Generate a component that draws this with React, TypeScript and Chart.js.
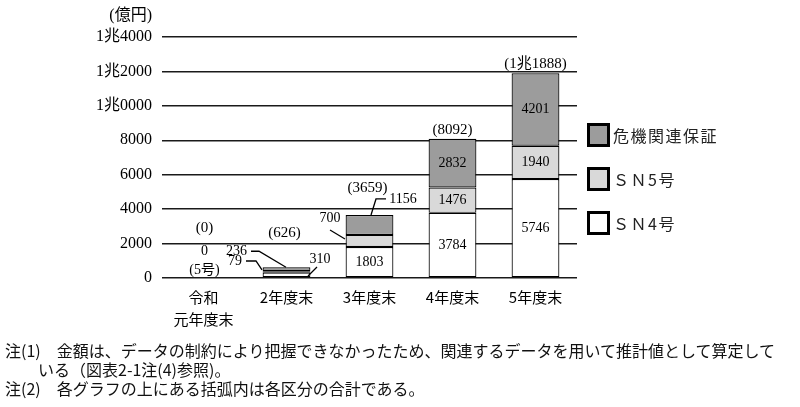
import { useEffect, useRef } from "react";
import { Chart, registerables } from "chart.js";

Chart.register(...registerables);

// 区分ごとの保証額 (億円)
const categories = [["令和", "元年度末"], "2年度末", "3年度末", "4年度末", "5年度末"];
const sn4 = [0, 310, 1803, 3784, 5746];
const sn5 = [0, 79, 700, 1476, 1940];
const crisis = [0, 236, 1156, 2832, 4201];
// 括弧内の合計 (図に書かれている値)
const totals = [0, 626, 3659, 8092, 11888];
const seriesNames = ["ＳＮ4号", "ＳＮ5号", "危機関連保証"];
const seriesColors = ["#ffffff", "#d9d9d9", "#9c9c9c"];

const NUM_FONT = '"Liberation Serif", "Noto Sans CJK JP", serif';
const JP_FONT = '"Noto Sans CJK JP", sans-serif';

function fmt(v: number) {
  if (v >= 10000) return `${Math.floor(v / 10000)}兆${String(v % 10000).padStart(4, "0")}`;
  return String(v);
}

// 合計ラベルの位置 (棒の上端からのずれ, px)
const totalOffsets = [
  [1, -50],
  [-2, -34],
  [-2, -27],
  [0, -9],
  [0, -9.5],
];

// 棒の外に出す数値と引き出し線 (棒の中心x・区分の中心y からのずれ, px)
type Callout = { ds: number; idx: number; text?: string; dx: number; dy: number; line: number[][] };
const callouts: Callout[] = [
  { ds: 1, idx: 0, dx: 1, dy: -27, line: [] },
  { ds: 1, idx: 0, text: "(5号)", dx: 1, dy: -8, line: [] },
  { ds: 0, idx: 1, dx: 33.5, dy: -16, line: [[30.5, -8], [21.5, 1]] },
  { ds: 1, idx: 1, dx: -51.5, dy: -11, line: [[-40.5, -11], [-30.5, -11], [-24.5, -2]] },
  { ds: 2, idx: 1, dx: -50, dy: -18, line: [[-35.5, -18], [-27.5, -18], [-0.5, -2]] },
  { ds: 1, idx: 2, dx: -39.5, dy: -23, line: [[-39.5, -11], [-24.5, -2]] },
  { ds: 2, idx: 2, dx: 33.5, dy: -26, line: [[16.5, -26], [6.5, -26], [1.5, -10]] },
];

const annotate = {
  id: "annotate",
  afterDatasetsDraw(chart: any) {
    const { ctx, chartArea } = chart;
    ctx.save();
    ctx.fillStyle = "#000";
    ctx.strokeStyle = "#000";
    ctx.lineWidth = 1.3;

    ctx.font = `16px ${NUM_FONT}`;
    ctx.textAlign = "right";
    ctx.textBaseline = "middle";
    ctx.fillText("(億円)", chartArea.left - 10, chartArea.top - 21);

    ctx.textAlign = "center";
    const values = chart.data.datasets.map((d: any) => d.data as number[]);
    const isOut = (ds: number, idx: number) => callouts.some((c) => c.ds === ds && c.idx === idx);

    // 棒の中の数値
    ctx.font = `14px ${NUM_FONT}`;
    values.forEach((arr: number[], ds: number) => {
      const meta = chart.getDatasetMeta(ds);
      arr.forEach((v, idx) => {
        if (v <= 0 || isOut(ds, idx)) return;
        const el = meta.data[idx];
        ctx.fillText(fmt(v), el.x, (el.y + el.base) / 2);
      });
    });

    // 引き出し線つきの数値
    callouts.forEach((c) => {
      const el = chart.getDatasetMeta(c.ds).data[c.idx];
      const cx = el.x;
      const cy = (el.y + el.base) / 2;
      ctx.fillText(c.text ?? fmt(values[c.ds][c.idx]), cx + c.dx, cy + c.dy);
      if (c.line.length > 1) {
        ctx.beginPath();
        c.line.forEach(([x, y], i) => (i === 0 ? ctx.moveTo(cx + x, cy + y) : ctx.lineTo(cx + x, cy + y)));
        ctx.stroke();
      }
    });

    // 括弧内の合計
    ctx.font = `15px ${NUM_FONT}`;
    const topMeta = chart.getDatasetMeta(values.length - 1);
    totals.forEach((t, idx) => {
      const el = topMeta.data[idx];
      const [dx, dy] = totalOffsets[idx];
      ctx.fillText(`(${fmt(t)})`, el.x + dx, el.y + dy);
    });
    ctx.restore();
  },
};

function Legend() {
  const order = [2, 1, 0];
  return (
    <div style={{ position: "absolute", left: 587, top: 123 }}>
      {order.map((i, k) => (
        <div key={i} style={{ position: "absolute", left: 0, top: k * 44, display: "flex", alignItems: "center", whiteSpace: "nowrap" }}>
          <div style={{ width: 17, height: 18, border: "3px solid #000", background: seriesColors[i] }} />
          <span style={{ marginLeft: 3, font: `16px ${JP_FONT}`, letterSpacing: 1.5, color: "#222" }}>{seriesNames[i]}</span>
        </div>
      ))}
    </div>
  );
}

export default function App() {
  const canvasRef = useRef<HTMLCanvasElement>(null);

  useEffect(() => {
    if (canvasRef.current === null) return;
    const chart = new Chart(canvasRef.current, {
      type: "bar",
      data: {
        labels: categories,
        datasets: [sn4, sn5, crisis].map((data, i) => ({
          label: seriesNames[i],
          data,
          backgroundColor: seriesColors[i],
          borderColor: "#000",
          borderWidth: 1.2,
          borderSkipped: false,
          categoryPercentage: 0.8,
          barPercentage: 0.72,
        })),
      },
      options: {
        responsive: false,
        animation: false,
        devicePixelRatio: 1,
        layout: { padding: { left: 0, right: 223, top: 37, bottom: 79 } },
        plugins: { legend: { display: false }, tooltip: { enabled: false } },
        scales: {
          x: {
            stacked: true,
            grid: { display: false, drawTicks: false },
            border: { display: false },
            ticks: { color: "#000", padding: 8, font: { family: JP_FONT, size: 15, lineHeight: 1.5 } },
            afterFit: (scale: any) => {
              scale.height = 50;
            },
          },
          y: {
            stacked: true,
            min: 0,
            max: 14000,
            grid: { color: "#1a1a1a", lineWidth: 1.5, drawTicks: false },
            border: { display: false },
            ticks: {
              stepSize: 2000,
              color: "#000",
              padding: 10,
              font: { family: NUM_FONT, size: 16 },
              callback: (v: any) => fmt(Number(v)),
            },
            afterFit: (scale: any) => {
              scale.width = 162;
            },
          },
        },
      },
      plugins: [annotate],
    });
    return () => chart.destroy();
  }, []);

  return (
    <div style={{ position: "absolute", left: 0, top: 0, width: 800, height: 407, background: "#fff", overflow: "hidden" }}>
      <canvas ref={canvasRef} width={800} height={407} />
      <Legend />
      <div style={{ position: "absolute", left: 5, top: 341, font: `16px ${JP_FONT}`, lineHeight: "19px", color: "#111", whiteSpace: "nowrap" }}>
        <div>注(1)　金額は、データの制約により把握できなかったため、関連するデータを用いて推計値として算定して</div>
        <div style={{ paddingLeft: 33 }}>いる（図表2-1注(4)参照)。</div>
        <div>注(2)　各グラフの上にある括弧内は各区分の合計である。</div>
      </div>
    </div>
  );
}
